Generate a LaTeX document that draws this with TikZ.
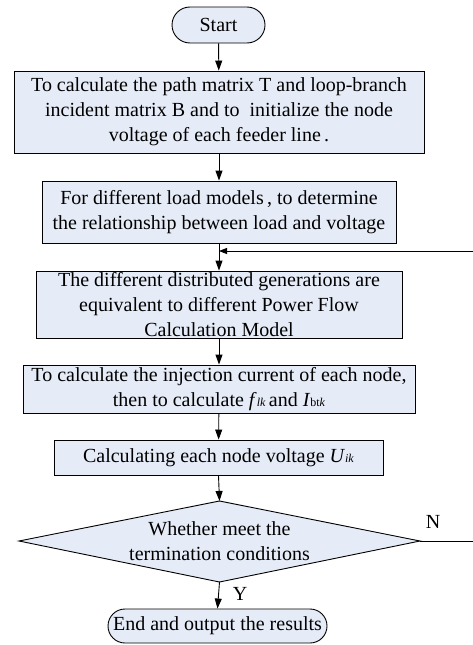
\documentclass[tikz,border=0pt]{standalone}
\usepackage{fontspec}
\setmainfont{Liberation Serif}
\usetikzlibrary{shapes.misc,shapes.geometric,arrows.meta}
\definecolor{boxfill}{HTML}{E6ECF7}
\tikzset{
  procbox/.style={draw, line width=0.9pt, fill=boxfill, align=center, inner sep=0pt, font=\fontsize{20}{25}\selectfont},
  termbox/.style={procbox, rounded rectangle},
  txt/.style={align=center, inner sep=0pt, font=\fontsize{20}{25}\selectfont},
  flow/.style={line width=0.9pt, -{Triangle[length=10pt,width=7pt]}},
  plain/.style={line width=0.9pt},
  lbl/.style={font=\fontsize{20}{22}\selectfont, inner sep=0pt}
}
\begin{document}
\begin{tikzpicture}[x=1pt,y=-1pt]
\useasboundingbox (0,0) rectangle (473,645);
\node[termbox, minimum width=93pt, minimum height=36pt] (start) at (218.5,25) {Start};
\node[procbox, minimum width=410pt, minimum height=82pt] (b1) at (219,112) {To calculate the path matrix T and loop-branch\\incident matrix B and to\ \ initialize the node\\voltage of each feeder line\,.};
\node[procbox, minimum width=354pt, minimum height=62pt] (b2) at (219,212) {For different load models\,, to determine\\the relationship between load and voltage};
\node[procbox, minimum width=366pt, minimum height=67pt] (b3) at (219,304.5) {The different distributed generations are\\equivalent to different Power Flow\\Calculation Model};
\node[procbox, minimum width=392pt, minimum height=48pt] (b4) at (219,389) {To calculate the injection current of each node,\\then to calculate \textit{f}{\fontsize{12}{12}\selectfont\textit{lk}}\,and \textit{I}{\fontsize{12}{12}\selectfont bt\textit{k}}};
\node[procbox, minimum width=329pt, minimum height=35pt] (b5) at (218.5,457.5) {Calculating each node voltage \textit{U}{\fontsize{12}{12}\selectfont\textit{ik}}};
\coordinate (dtop) at (219.5,501);
\coordinate (dbot) at (219.5,582);
\coordinate (dleft) at (19,541);
\coordinate (dright) at (420,541);
\draw[line width=0.9pt, fill=boxfill] (dtop) -- (dright) -- (dbot) -- (dleft) -- cycle;
\node[txt] (dec) at (219.5,541) {Whether meet the\\termination conditions};
\node[termbox, minimum width=219pt, minimum height=34pt] (end) at (217.5,626) {End and output the results};
\coordinate (nout) at (473,541);
\coordinate (fbin) at (473,251);
\coordinate (fbend) at (219,251);
\draw[flow] (start) -- (b1);
\draw[flow] (b1) -- (b2);
\draw[flow] (b2) -- (b3);
\draw[flow] (b3) -- (b4);
\draw[flow] (b4) -- (b5);
\draw[flow] (b5.south) -- (dtop);
\draw[flow] (dbot) -- (end.north);
\draw[plain] (dright) -- (nout);
\draw[plain, -{Triangle[length=8pt,width=6pt]}] (fbin) -- (fbend);
\node[lbl] (nlab) at (433,522) {N};
\node[lbl] (ylab) at (240,594) {Y};
\end{tikzpicture}
\end{document}
